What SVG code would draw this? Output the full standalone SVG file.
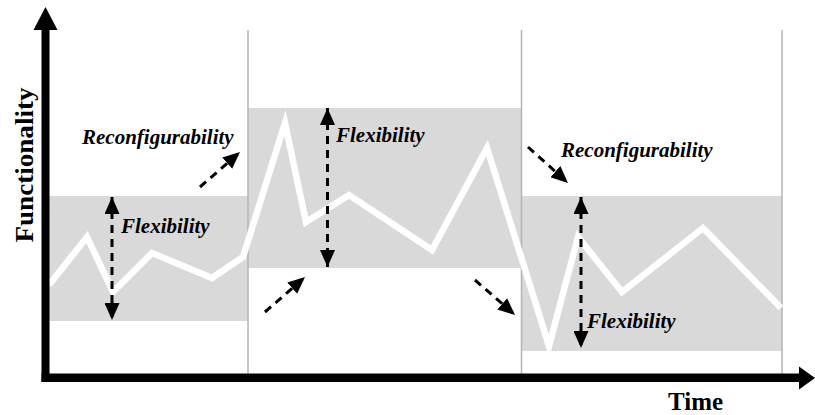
<svg xmlns="http://www.w3.org/2000/svg" width="815" height="415" viewBox="0 0 815 415">
  <style>
    .band { fill: #d9d9d9; }
    .divider { stroke: #b4b4b4; stroke-width: 1.5; fill: none; }
    .axis { fill: #000; }
    .trace { fill: none; stroke: #fff; stroke-width: 6.5; stroke-linejoin: miter; stroke-miterlimit: 10; }
    .dash { fill: none; stroke: #000; stroke-width: 3; stroke-dasharray: 8 6; }
    .lbl { font-family: "Liberation Serif", "Times New Roman", serif; font-weight: bold; font-style: italic; font-size: 21px; fill: #000; }
    .axlbl { font-family: "Liberation Serif", "Times New Roman", serif; font-weight: bold; font-size: 25px; fill: #000; }
  </style>
  <defs>
    <marker id="head" viewBox="0 0 17 15" refX="17" refY="7.5" markerWidth="17" markerHeight="15" markerUnits="userSpaceOnUse" orient="auto-start-reverse">
      <path d="M0,0 L17,7.5 L0,15 Z" fill="#000"/>
    </marker>
  </defs>

  <rect width="815" height="415" fill="#fff"/>

  <!-- functionality bands per period -->
  <g id="band-1"><rect class="band" x="49" y="196" width="199" height="125"/></g>
  <g id="band-2"><rect class="band" x="248" y="108" width="273" height="160"/></g>
  <g id="band-3"><rect class="band" x="521" y="196" width="261" height="155"/></g>

  <!-- period dividers -->
  <g id="dividers">
    <line class="divider" x1="248" y1="30" x2="248" y2="374"/>
    <line class="divider" x1="521.5" y1="30" x2="521.5" y2="374"/>
    <line class="divider" x1="782" y1="30" x2="782" y2="374"/>
  </g>

  <!-- functionality trace -->
  <g id="trace">
    <polyline class="trace" points="49,285 87,237 113,292 152,253 212,278 243,257 285,123 306,222 349,195 432,250 487,148 549,346 578,237 622,292 703,228 781,308"/>
  </g>

  <!-- axes -->
  <g id="y-axis">
    <rect class="axis" x="41.5" y="28" width="8" height="354"/>
    <polygon class="axis" points="45.5,7 57.5,30 33.5,30"/>
    <text class="axlbl" font-size="26" transform="translate(33,165) rotate(-90)" text-anchor="middle" textLength="155" lengthAdjust="spacingAndGlyphs">Functionality</text>
  </g>
  <g id="x-axis">
    <rect class="axis" x="41.5" y="373.5" width="760" height="8.5"/>
    <polygon class="axis" points="815,378 799,366.5 799,389.5"/>
    <text class="axlbl" x="668" y="410">Time</text>
  </g>

  <!-- connectors -->
  <g id="connectors">
    <line class="dash" x1="112" y1="197" x2="112" y2="320" marker-start="url(#head)" marker-end="url(#head)"/>
    <line class="dash" x1="327.5" y1="108" x2="327.5" y2="267" marker-start="url(#head)" marker-end="url(#head)"/>
    <line class="dash" x1="581" y1="197" x2="581" y2="348" marker-start="url(#head)" marker-end="url(#head)"/>
    <line class="dash" x1="200" y1="187" x2="240" y2="152" marker-end="url(#head)"/>
    <line class="dash" x1="265" y1="312" x2="305" y2="277" marker-end="url(#head)"/>
    <line class="dash" x1="475" y1="280" x2="515" y2="315" marker-end="url(#head)"/>
    <line class="dash" x1="528" y1="147" x2="568" y2="183" marker-end="url(#head)"/>
  </g>

  <!-- labels -->
  <g id="label-flex-1"><text class="lbl" x="121" y="233">Flexibility</text></g>
  <g id="label-flex-2"><text class="lbl" x="336" y="142">Flexibility</text></g>
  <g id="label-flex-3"><text class="lbl" x="587" y="328">Flexibility</text></g>
  <g id="label-reconf-1"><text class="lbl" x="82" y="144">Reconfigurability</text></g>
  <g id="label-reconf-2"><text class="lbl" x="561" y="157">Reconfigurability</text></g>
</svg>
